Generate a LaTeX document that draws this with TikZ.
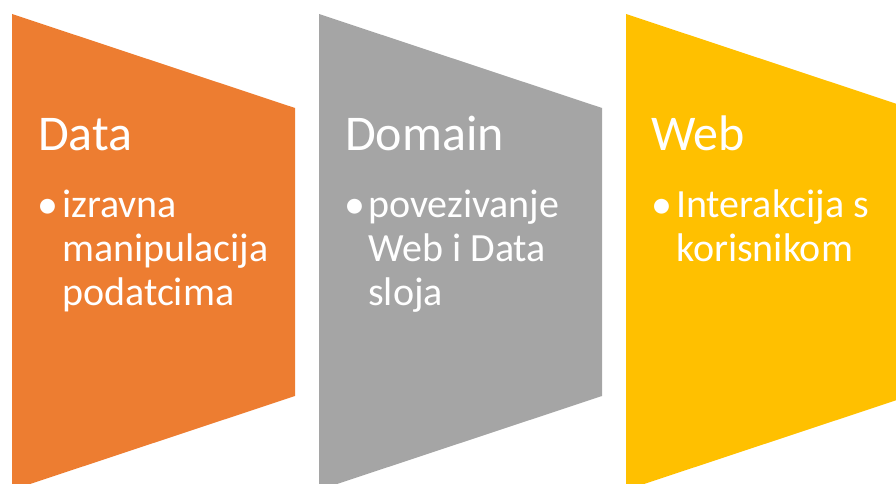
\documentclass[tikz,border=0pt]{standalone}
\usepackage{fontspec}
\setmainfont{Carlito}
\definecolor{layerorange}{HTML}{ED7D31}
\definecolor{layergray}{HTML}{A5A5A5}
\definecolor{layeryellow}{HTML}{FFC000}
\begin{document}
\begin{tikzpicture}[x=1pt,y=1pt]
        % Define styles for the texts
        \tikzstyle{title}=[anchor=base west,inner sep=0pt,text=white,font=\fontsize{50}{60}\selectfont]
        \tikzstyle{bullet}=[anchor=base west,inner sep=0pt,text=white,font=\fontsize{42}{46}\selectfont]
        \tikzstyle{item}=[anchor=base west,inner sep=0pt,text=white,align=left,font=\fontsize{40}{44}\selectfont]
        
        \clip (0,0) rectangle (896,484);
        
        % Draw the Data layer (text is placed at the baseline of its last line)
        \fill[layerorange] (12,470) -- (295,376) -- (295,88) -- (12,-6) -- cycle;
        \node[title] (datatitle) at (38,333) {Data};
        \node[bullet] (databullet) at (37,265) {•};
        \node[item] (datatext) at (62,178) {izravna\\manipulacija\\podatcima};
        
        % Draw the Domain layer
        \fill[layergray] (319,470) -- (602,376) -- (602,88) -- (319,-6) -- cycle;
        \node[title] (domaintitle) at (345,333) {Domain};
        \node[bullet] (domainbullet) at (344,265) {•};
        \node[item] (domaintext) at (368,178) {povezivanje\\Web i Data\\sloja};
        
        % Draw the Web layer
        \fill[layeryellow] (626,470) -- (909,376) -- (909,88) -- (626,-6) -- cycle;
        \node[title] (webtitle) at (651,333) {Web};
        \node[bullet] (webbullet) at (651,265) {•};
        \node[item] (webtext) at (676,222) {Interakcija s\\korisnikom};
        \end{tikzpicture}
\end{document}
